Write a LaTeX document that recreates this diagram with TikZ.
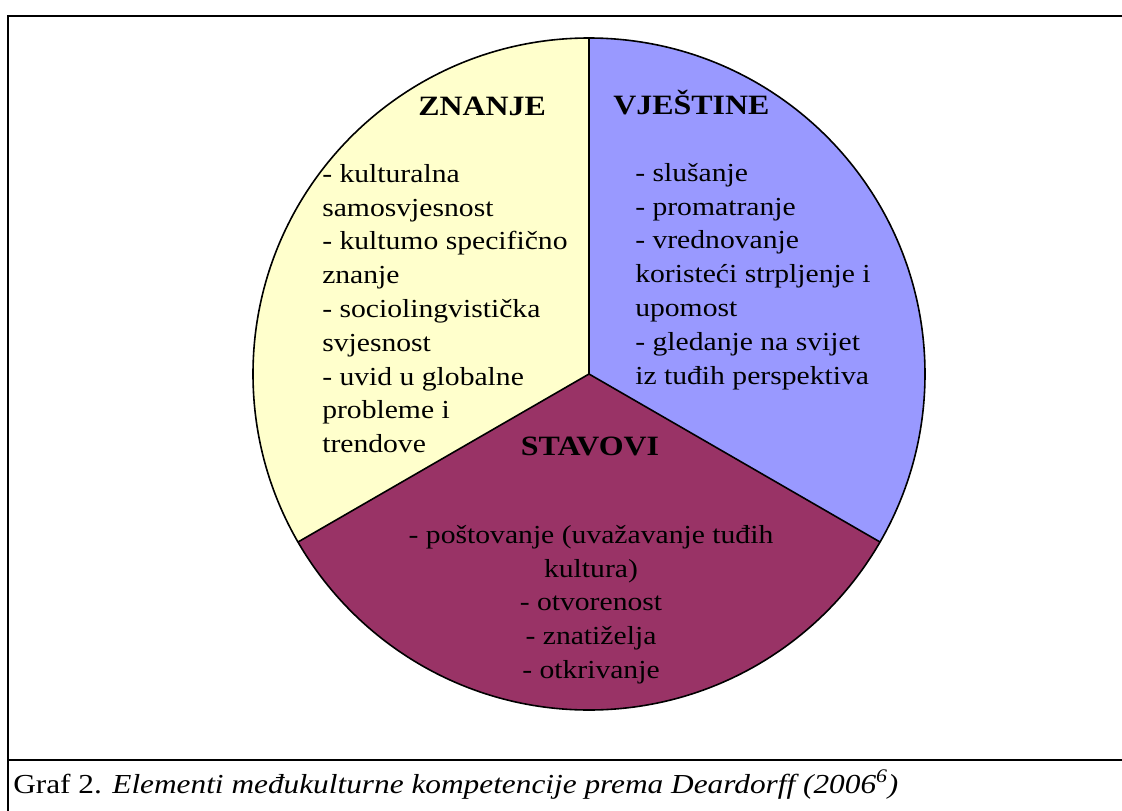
\documentclass[tikz,border=0pt]{standalone}
\usepackage{fontspec}
\setmainfont{Liberation Serif}[FakeStretch=1.14]
\usepackage{tikz}

\definecolor{znanjeYellow}{RGB}{255,255,204}
\definecolor{vjestinePurple}{RGB}{153,153,255}
\definecolor{stavoviMaroon}{RGB}{153,51,102}

\tikzset{
  slice/.style={draw=black,line width=1.2},
  head/.style={font=\fontsize{21}{24}\selectfont\bfseries,inner sep=0pt},
  body/.style={font=\fontsize{19.5}{25.35}\selectfont,inner sep=0pt}
}

\begin{document}
\begin{tikzpicture}[x=0.75pt,y=0.75pt,yscale=-1,xscale=1]
        \useasboundingbox (0,0) rectangle (1122,811);
        % frame and caption rule
        \draw [line width=2]  (8,830) -- (8,16) -- (1130,16) ;
        \draw [line width=2]  (8,760) -- (1130,760) ;

        % pie
        \coordinate (ctr) at (589,374);
        \fill [znanjeYellow] (ctr) -- ++(-90:336) arc [start angle=-90, end angle=-210, radius=336] -- cycle;
        \fill [stavoviMaroon] (ctr) -- ++(-210:336) arc [start angle=-210, end angle=-330, radius=336] -- cycle;
        \fill [vjestinePurple] (ctr) -- ++(30:336) arc [start angle=30, end angle=-90, radius=336] -- cycle;
        \draw [slice] (ctr) circle [radius=336];
        \draw [slice, line width=2.2] (ctr) -- ++(-90:336);
        \draw [slice] (ctr) -- ++(-210:336);
        \draw [slice] (ctr) -- ++(30:336);

        \node [head, anchor=base west] (znanje) at (418,115) {ZNANJE};
        \node [head, anchor=base west] (vjestine) at (613,114) {VJEŠTINE};
        \node [head, anchor=base] (stavovi) at (590,455) {STAVOVI};

        \node [body, anchor=north west, align=left] (znanjeList) at (322,164) {- kulturalna\\samosvjesnost\\- kultumo specifično\\znanje\\- sociolingvistička\\svjesnost\\- uvid u globalne\\probleme i\\trendove};
        \node [body, anchor=north west, align=left] (vjestineList) at (635,163) {- slušanje\\- promatranje\\- vrednovanje\\koristeći strpljenje i\\upomost\\- gledanje na svijet\\iz tuđih perspektiva};
        \node [body, anchor=north, align=center] (stavoviList) at (591,525) {- poštovanje (uvažavanje tuđih\\kultura)\\- otvorenost\\- znatiželja\\- otkrivanje};

        \node [anchor=base west, inner sep=0pt, font=\fontsize{20.6}{24}\selectfont] (caption) at (13,793) {Graf 2. \textit{Elementi međukulturne kompetencije prema Deardorff (2006\textsuperscript{6})}};
\end{tikzpicture}
\end{document}
